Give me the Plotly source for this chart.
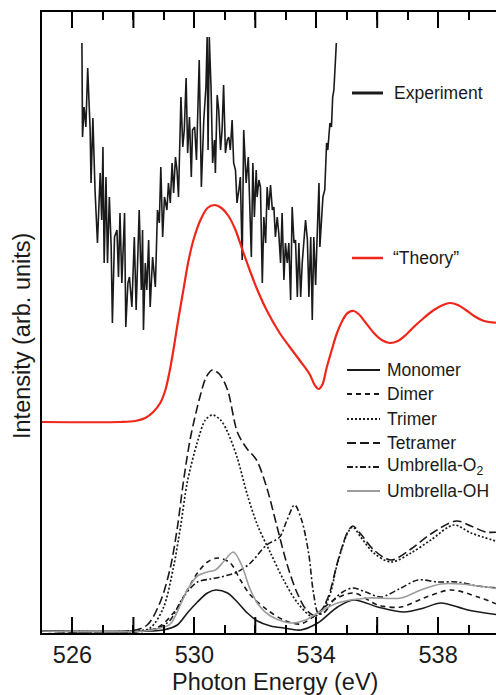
import plotly.graph_objects as go

# ---------------- data (photon energy in eV, intensity in arb. units) ----------------
exp_energy = [526.31, 526.33, 526.38, 526.44, 526.50, 526.58, 526.61, 526.67, 526.74, 526.82,
              526.91, 526.96, 527.00, 527.04, 527.10, 527.15, 527.21, 527.27, 527.31, 527.38,
              527.46, 527.51, 527.56, 527.62, 527.71, 527.75, 527.82, 527.87, 527.95, 528.03,
              528.09, 528.19, 528.26, 528.30, 528.33, 528.39, 528.44, 528.50, 528.55, 528.63,
              528.72, 528.79, 528.85, 528.90, 528.96, 529.02, 529.10, 529.15, 529.21, 529.27,
              529.32, 529.38, 529.43, 529.48, 529.56, 529.62, 529.67, 529.73, 529.78, 529.84,
              529.90, 529.94, 530.01, 530.07, 530.16, 530.23, 530.31, 530.38, 530.42, 530.45,
              530.49, 530.55, 530.60, 530.66, 530.69, 530.75, 530.80, 530.86, 530.91, 530.96,
              531.02, 531.08, 531.13, 531.18, 531.24, 531.29, 531.35, 531.40, 531.46, 531.51,
              531.57, 531.62, 531.70, 531.77, 531.81, 531.87, 531.92, 531.97, 532.03, 532.06,
              532.12, 532.17, 532.23, 532.28, 532.34, 532.39, 532.44, 532.50, 532.56, 532.61,
              532.66, 532.72, 532.77, 532.83, 532.88, 532.94, 532.99, 533.05, 533.10, 533.16,
              533.21, 533.27, 533.32, 533.38, 533.43, 533.49, 533.54, 533.60, 533.65, 533.71,
              533.76, 533.82, 533.87, 533.92, 533.98, 534.04, 534.09, 534.12, 534.17, 534.22,
              534.28, 534.34, 534.38, 534.45, 534.50, 534.54, 534.58, 534.62, 534.66]
exp_intensity = [5.88, 4.94, 5.24, 5.04, 5.63, 5.01, 4.48, 5.13, 4.41, 3.88,
                 4.58, 4.11, 4.84, 3.68, 4.54, 3.68, 4.34, 3.84, 3.08, 3.94,
                 4.01, 3.54, 4.18, 3.48, 4.18, 3.04, 3.48, 3.54, 3.24, 3.94,
                 3.21, 4.21, 3.41, 4.01, 3.01, 3.68, 3.41, 3.91, 3.24, 3.74,
                 3.44, 4.21, 4.08, 4.64, 3.94, 4.34, 4.21, 4.48, 4.28, 4.68,
                 4.38, 4.74, 4.61, 4.34, 5.34, 4.84, 5.01, 5.53, 4.78, 5.14,
                 4.54, 5.01, 5.04, 4.71, 5.71, 4.44, 5.11, 5.44, 5.94, 4.81,
                 5.94, 5.41, 4.68, 4.91, 4.58, 5.36, 5.21, 4.81, 5.01, 5.46,
                 4.78, 4.91, 4.94, 4.81, 5.11, 4.68, 4.61, 4.28, 4.41, 4.54,
                 3.71, 5.01, 4.48, 4.74, 4.34, 3.74, 4.68, 4.14, 4.61, 4.34,
                 4.51, 4.44, 3.48, 4.14, 3.88, 4.44, 4.21, 4.46, 4.21, 4.24,
                 3.94, 4.14, 3.98, 3.68, 4.18, 3.51, 3.88, 3.68, 3.88, 3.31,
                 4.24, 3.88, 3.91, 3.34, 3.88, 3.34, 3.68, 3.98, 4.11, 3.91,
                 3.34, 3.94, 3.11, 3.94, 3.46, 4.04, 4.48, 3.84, 4.14, 4.34,
                 4.41, 4.88, 4.81, 5.08, 5.04, 5.34, 5.41, 5.68, 5.88]

theory_energy = [525.00, 527.57, 528.06, 528.39, 528.65, 528.88, 529.05, 529.21, 529.34, 529.47,
                 529.64, 529.80, 529.97, 530.20, 530.43, 530.66, 530.89, 531.12, 531.35, 531.58,
                 531.84, 532.07, 532.37, 532.80, 533.13, 533.45, 533.78, 533.95, 534.08, 534.21,
                 534.34, 534.51, 534.67, 534.87, 535.03, 535.23, 535.39, 535.63, 535.89, 536.15,
                 536.41, 536.68, 536.94, 537.20, 537.53, 537.86, 538.16, 538.39, 538.65, 538.91,
                 539.18, 539.51, 540.00]
theory_intensity = [2.09, 2.09, 2.10, 2.13, 2.19, 2.28, 2.41, 2.63, 2.86, 3.11,
                    3.41, 3.69, 3.91, 4.11, 4.23, 4.26, 4.23, 4.15, 4.01, 3.81,
                    3.59, 3.41, 3.21, 2.98, 2.84, 2.71, 2.57, 2.46, 2.42, 2.47,
                    2.63, 2.81, 2.97, 3.11, 3.18, 3.20, 3.17, 3.08, 2.98, 2.91,
                    2.88, 2.90, 2.96, 3.04, 3.13, 3.21, 3.26, 3.28, 3.26, 3.21,
                    3.15, 3.10, 3.08]

monomer_energy = [525.00, 528.55, 528.98, 529.44, 529.77, 530.10, 530.43, 530.69, 531.09, 531.41,
                  531.74, 532.07, 532.50, 532.93, 533.49, 534.05, 534.70, 535.23, 536.02, 536.88,
                  537.53, 538.09, 538.98, 540.00]
monomer_intensity = [0.00, 0.00, 0.01, 0.06, 0.18, 0.29, 0.38, 0.41, 0.38, 0.29,
                     0.18, 0.10, 0.05, 0.03, 0.01, 0.08, 0.24, 0.31, 0.24, 0.19,
                     0.23, 0.28, 0.21, 0.16]

dimer_energy = [525.00, 528.39, 528.88, 529.44, 529.77, 530.10, 530.43, 530.76, 531.18, 531.51,
                531.84, 532.40, 532.93, 533.49, 534.05, 534.57, 535.23, 536.02, 536.78, 537.53,
                538.42, 539.31, 540.00]
dimer_intensity = [0.00, 0.00, 0.05, 0.23, 0.41, 0.58, 0.69, 0.73, 0.68, 0.51,
                   0.36, 0.21, 0.11, 0.07, 0.18, 0.31, 0.38, 0.26, 0.24, 0.33,
                   0.41, 0.34, 0.26]

trimer_energy = [525.00, 528.06, 528.55, 528.98, 529.31, 529.54, 529.77, 530.10, 530.36, 530.59,
                 530.86, 531.09, 531.41, 531.74, 532.07, 532.50, 532.93, 533.39, 533.91, 534.38,
                 534.70, 535.03, 535.20, 535.46, 535.89, 536.45, 537.11, 537.76, 538.52, 539.08,
                 540.00]
trimer_intensity = [0.00, 0.00, 0.03, 0.23, 0.63, 1.03, 1.49, 1.89, 2.11, 2.16,
                    2.11, 1.99, 1.73, 1.36, 1.06, 0.78, 0.51, 0.28, 0.14, 0.31,
                    0.68, 0.98, 1.04, 0.94, 0.78, 0.69, 0.78, 0.91, 1.06, 0.98,
                    0.89]

tetramer_energy = [525.00, 527.89, 528.45, 528.88, 529.21, 529.44, 529.64, 529.87, 530.20, 530.39,
                   530.59, 530.82, 531.09, 531.41, 531.71, 532.04, 532.37, 532.70, 533.03, 533.36,
                   533.68, 534.01, 534.38, 534.70, 535.03, 535.20, 535.46, 535.89, 536.45, 537.11,
                   537.76, 538.59, 539.08, 539.57, 540.00]
tetramer_intensity = [0.00, 0.00, 0.06, 0.29, 0.63, 1.03, 1.49, 1.93, 2.36, 2.54,
                      2.61, 2.57, 2.41, 1.99, 1.83, 1.71, 1.44, 1.06, 0.68, 0.39,
                      0.21, 0.15, 0.33, 0.69, 0.99, 1.05, 0.97, 0.81, 0.71, 0.82,
                      0.97, 1.10, 1.05, 0.99, 0.99]

umb_o2_energy = [525.00, 528.39, 528.88, 529.21, 529.64, 530.10, 530.53, 530.86, 531.41, 531.84,
                 532.37, 532.80, 533.03, 533.29, 533.52, 533.75, 533.91, 534.08, 534.28, 534.57,
                 534.87, 535.20, 535.63, 536.12, 536.78, 537.34, 537.99, 538.65, 539.28, 540.00]
umb_o2_intensity = [0.00, 0.00, 0.04, 0.11, 0.34, 0.49, 0.52, 0.54, 0.59, 0.68,
                    0.86, 0.94, 1.10, 1.26, 1.11, 0.78, 0.38, 0.17, 0.19, 0.31,
                    0.39, 0.43, 0.39, 0.34, 0.43, 0.51, 0.49, 0.49, 0.45, 0.43]

umb_oh_energy = [525.00, 528.39, 528.88, 529.21, 529.54, 529.77, 530.10, 530.43, 530.69, 530.95,
                 531.28, 531.55, 531.84, 532.11, 532.50, 533.16, 533.65, 534.05, 534.70, 535.69,
                 536.78, 537.43, 538.09, 538.75, 540.00]
umb_oh_intensity = [0.00, 0.00, 0.03, 0.07, 0.26, 0.41, 0.55, 0.59, 0.61, 0.69,
                    0.79, 0.66, 0.41, 0.26, 0.15, 0.08, 0.11, 0.18, 0.28, 0.33,
                    0.33, 0.41, 0.47, 0.47, 0.42]

x_labeled_ticks = [526, 530, 534, 538]
x_unlabeled_major_ticks = [528, 532, 536]

# ---------------- figure ----------------
W, H = 496, 695
ML, MR, MT, MB = 42, 0, 12, 62
PW, PH = W - ML - MR, H - MT - MB

def px(xp):
    return (xp - ML) / PW

def py(yp):
    return (MT + PH - yp) / PH

INK = "#1a1a1a"
RED = "#f0261b"
GRAY = "#9c9c9c"
FONT = "Liberation Sans, Arial, sans-serif"

fig = go.Figure()

series = [
    ("Experiment", exp_energy, exp_intensity, INK, 1.6, "solid", "linear"),
    ("\u201cTheory\u201d", theory_energy, theory_intensity, RED, 2.2, "solid", "spline"),
    ("Monomer", monomer_energy, monomer_intensity, INK, 1.6, "solid", "spline"),
    ("Dimer", dimer_energy, dimer_intensity, INK, 1.6, "5px,4px", "spline"),
    ("Trimer", trimer_energy, trimer_intensity, INK, 1.7, "2px,2px", "spline"),
    ("Tetramer", tetramer_energy, tetramer_intensity, INK, 1.6, "9px,4px", "spline"),
    ("Umbrella-O<sub>2</sub>", umb_o2_energy, umb_o2_intensity, INK, 1.6, "6px,2.5px,2px,2.5px", "spline"),
    ("Umbrella-OH", umb_oh_energy, umb_oh_intensity, GRAY, 1.6, "solid", "spline"),
]

for name, xs, ys, col, lw, dash, shape in series:
    line = dict(color=col, width=lw, dash=dash, shape=shape)
    if shape == "spline":
        line["smoothing"] = 0.9
    fig.add_trace(go.Scatter(x=xs, y=ys, mode="lines", name=name, line=line,
                             showlegend=False, hoverinfo="skip"))

# ---------------- hand-placed legends ----------------
shapes = []
annotations = []

def legend_item(x0p, x1p, ypix, textx, text, col, lw, dash):
    shapes.append(dict(type="line", xref="paper", yref="paper",
                       x0=px(x0p), x1=px(x1p), y0=py(ypix), y1=py(ypix),
                       line=dict(color=col, width=lw, dash=dash)))
    annotations.append(dict(xref="paper", yref="paper", x=px(textx), y=py(ypix),
                            xanchor="left", yanchor="middle", text=text, showarrow=False,
                            font=dict(family=FONT, size=17.5, color=INK)))

legend_item(352, 383, 93, 392, "Experiment", INK, 3, "solid")
legend_item(352, 383, 258, 391, "\u201cTheory\u201d", RED, 2.5, "solid")
group = [
    ("Monomer", 370, INK, "solid"),
    ("Dimer", 394, INK, "5px,4px"),
    ("Trimer", 419, INK, "2px,2px"),
    ("Tetramer", 443, INK, "9px,4px"),
    ("Umbrella-O<sub>2</sub>", 467, INK, "6px,2.5px,2px,2.5px"),
    ("Umbrella-OH", 491, GRAY, "solid"),
]
for text, yp, col, dash in group:
    legend_item(347, 380, yp, 385, text, col, 2.2, dash)

# long (unlabelled) major ticks at bottom and top, inside the frame
TL = 16 / PH
for xv in x_unlabeled_major_ticks:
    shapes.append(dict(type="line", xref="x", yref="paper", x0=xv, x1=xv, y0=0, y1=TL,
                       line=dict(color="black", width=2)))
    shapes.append(dict(type="line", xref="x", yref="paper", x0=xv, x1=xv, y0=1, y1=1 - TL,
                       line=dict(color="black", width=2)))

# axis titles
annotations.append(dict(xref="paper", yref="paper", x=px(22), y=py(336),
                        xanchor="center", yanchor="middle", textangle=-90,
                        text="Intensity (arb. units)", showarrow=False,
                        font=dict(family=FONT, size=23.5, color=INK)))
annotations.append(dict(xref="paper", yref="paper", x=px(275), y=py(682),
                        xanchor="center", yanchor="middle",
                        text="Photon Energy (eV)", showarrow=False,
                        font=dict(family=FONT, size=23.5, color=INK)))

fig.update_layout(
    width=W, height=H,
    margin=dict(l=ML, r=MR, t=MT, b=MB, pad=0),
    paper_bgcolor="white", plot_bgcolor="white",
    showlegend=False,
    shapes=shapes, annotations=annotations,
    font=dict(family=FONT, color=INK),
)
fig.update_xaxes(
    range=[525, 539.9], showgrid=False, zeroline=False,
    showline=True, linecolor="black", linewidth=2, mirror="ticks",
    ticks="inside", ticklen=16, tickwidth=2, tickcolor="black",
    tickmode="array", tickvals=x_labeled_ticks,
    tickfont=dict(family=FONT, size=23.5, color=INK),
    minor=dict(ticks="inside", ticklen=8, tickwidth=2, tickcolor="black", dtick=1, tick0=525, showgrid=False),
)
fig.update_yaxes(
    range=[-0.02, 6.19], showgrid=False, zeroline=False,
    showline=True, linecolor="black", linewidth=2, mirror=False,
    ticks="", showticklabels=False,
)

fig.write_html("out.html")
